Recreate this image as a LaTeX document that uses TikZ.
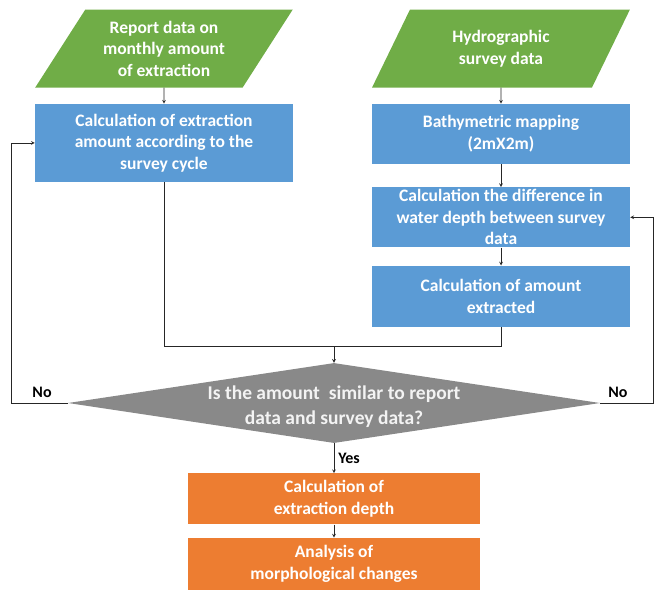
\documentclass[tikz,border=0pt]{standalone}
\usepackage{fontspec}
\setmainfont{Carlito}
\usepackage{tikz}
\usetikzlibrary{positioning, shapes.geometric, arrows}
\definecolor{dgreen}{HTML}{70AD47}
\definecolor{dblue}{HTML}{5B9BD5}
\definecolor{dorange}{HTML}{ED7D31}
\definecolor{dgray}{HTML}{898989}
\tikzstyle{datain} = [trapezium, trapezium stretches=true, fill=dgreen, text=white, inner sep=0pt, align=center, minimum width=258pt, minimum height=78pt, font=\bfseries\fontsize{17.5}{21.5}\selectfont]
\tikzstyle{bbox} = [rectangle, fill=dblue, text=white, inner sep=0pt, align=center, minimum width=258pt, font=\bfseries\fontsize{17.5}{21.5}\selectfont]
\tikzstyle{obox} = [rectangle, fill=dorange, text=white, inner sep=0pt, align=center, minimum width=292pt, font=\bfseries\fontsize{17.5}{21.5}\selectfont]
\tikzstyle{decbox} = [diamond, fill=dgray, inner sep=0pt, minimum width=532pt, minimum height=80pt]
\tikzstyle{dectext} = [text=white!90!dgray, inner sep=0pt, align=center, font=\bfseries\fontsize{19.5}{25}\selectfont]
\tikzstyle{lbl} = [text=black, inner sep=0pt, font=\bfseries\fontsize{16}{18}\selectfont]
\tikzstyle{arrow} = [->,>=stealth, draw=black!85, line width=0.7pt]
\tikzstyle{line} = [draw=black!85, line width=0.7pt]

\begin{document}
\begin{tikzpicture}[node distance=16pt]
    \useasboundingbox (0pt,0pt) rectangle (660pt,-590pt);

    % left column
    \node [datain, trapezium left angle=55, trapezium right angle=125] (rep) at (164pt,-48.5pt) {Report data on\\monthly amount\\of extraction};
    \node [bbox, minimum height=78pt, below=of rep] (calcA) {Calculation of extraction\\amount according to the\\survey cycle};

    % right column
    \node [datain, trapezium left angle=61, trapezium right angle=119] (hyd) at (501pt,-48.5pt) {Hydrographic\\survey data};
    \node [bbox, minimum height=60pt, below=of hyd] (bath) {Bathymetric mapping\\(2mX2m)};
    \node [bbox, minimum height=60pt, below=23pt of bath] (diff) {Calculation the difference in\\water depth between survey\\data};
    \node [bbox, minimum height=61pt, below=18pt of diff] (amt) {Calculation of amount\\extracted};

    % decision
    \node [decbox] (decide) at (334pt,-403pt) {};
    \node [dectext, yshift=-4pt] (q) at (decide) {Is the amount\ \ similar\ to\ report\\data\ and\ survey\ data?};
    \node [obox, minimum height=51pt, below=30pt of decide] (depth) {Calculation of\\extraction depth};
    \node [obox, minimum height=52pt, below=13pt of depth] (morph) {Analysis of\\morphological changes};

    \coordinate [above=16pt of decide] (mrg);
    \coordinate [left=56pt of decide.west] (lbend);
    \coordinate [right=53pt of decide.east] (rbend);

    \draw[arrow] (rep) -- (calcA);
    \draw[arrow] (hyd) -- (bath);
    \draw[arrow] (bath) -- (diff);
    \draw[arrow] (diff) -- (amt);

    \draw[line] (calcA.south) |- (mrg) -| (amt.south);
    \draw[arrow] (mrg) -- (decide);

    \draw[arrow] (decide.west) -- (lbend) |- (calcA.west);
    \node[lbl, above left=5pt and 16pt of decide.west] (nol) {No};
    \draw[arrow] (decide.east) -- (rbend) |- (diff.east);
    \node[lbl, above right=5pt and 8pt of decide.east] (nor) {No};

    \draw[arrow] (decide) -- node[lbl, right=4pt] (yes) {Yes} (depth);
    \draw[arrow] (depth) -- (morph);

\end{tikzpicture}
\end{document}
